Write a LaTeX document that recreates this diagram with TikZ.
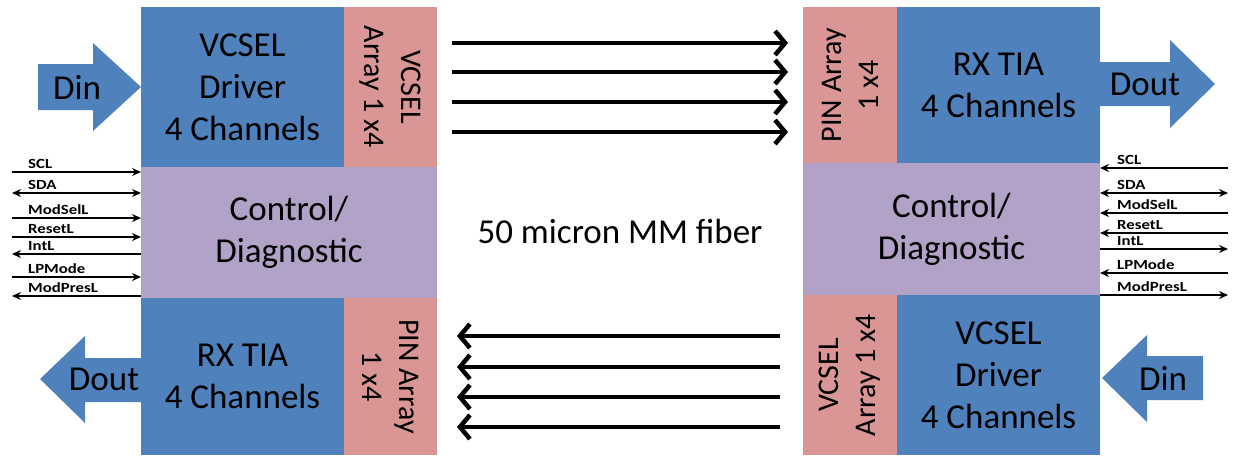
\documentclass[tikz,border=0pt]{standalone}
\usepackage{fontspec}
\setmainfont{Carlito}
\newfontfamily\sigfont{Carlito}[FakeStretch=1.2]
\usetikzlibrary{arrows.meta,positioning}
\definecolor{block}{HTML}{4F81BD}
\definecolor{array}{HTML}{D99694}
\definecolor{ctrl}{HTML}{B3A2C7}

\tikzset{
  blk/.style={inner sep=0pt,outer sep=0pt,align=center,
    font=\fontsize{35}{42}\selectfont},
  rottext/.style={inner sep=0pt,align=center,
    font=\fontsize{30}{37}\selectfont},
  fiber/.style={line width=4pt,-{Straight Barb[length=10pt,width=24pt,line width=4.5pt]}},
  sig/.style={line width=1.3pt,>={Stealth[length=9pt,width=8pt]}},
  siglab/.style={inner sep=0pt,anchor=base west,
    font=\sigfont\bfseries\fontsize{14}{14}\selectfont},
  bigtext/.style={inner sep=0pt,font=\fontsize{35}{42}\selectfont}
}

\begin{document}
\begin{tikzpicture}[x=1pt,y=-1pt]
  \useasboundingbox (0,0) rectangle (1233,455);

  % Left module
  \node[blk,fill=block,minimum width=203,minimum height=160,anchor=north west]
    (drvL) at (141,7) {VCSEL\\Driver\\4 Channels};
  \node[blk,fill=array,minimum width=93,minimum height=160,right=0pt of drvL] (vcsL) {};
  \node[rottext,rotate=-90] (vcsLt) at (vcsL) {VCSEL\\Array 1 x4};
  \node[blk,fill=ctrl,minimum width=296,minimum height=131,anchor=north west]
    (ctrlL) at (drvL.south west) {Control/\\Diagnostic};
  \node[blk,fill=block,minimum width=203,minimum height=157,anchor=north west]
    (rxL) at (ctrlL.south west) {RX TIA\\4 Channels};
  \node[blk,fill=array,minimum width=93,minimum height=157,right=0pt of rxL] (pinL) {};
  \node[rottext,rotate=-90] (pinLt) at (pinL) {PIN Array\\1 x4};

  % Right module
  \node[blk,fill=array,minimum width=94,minimum height=156,anchor=north west]
    (pinR) at (803,7) {};
  \node[rottext,rotate=90] (pinRt) at (pinR) {PIN Array\\1 x4};
  \node[blk,fill=block,minimum width=203,minimum height=156,right=0pt of pinR]
    (rxR) {RX TIA\\4 Channels};
  \node[blk,fill=ctrl,minimum width=297,minimum height=132,anchor=north west]
    (ctrlR) at (pinR.south west) {Control/\\Diagnostic};
  \node[blk,fill=array,minimum width=94,minimum height=160,anchor=north west]
    (vcsR) at (ctrlR.south west) {};
  \node[rottext,rotate=90] (vcsRt) at (vcsR) {VCSEL\\Array 1 x4};
  \node[blk,fill=block,minimum width=203,minimum height=160,right=0pt of vcsR]
    (drvR) {VCSEL\\Driver\\4 Channels};

  % Data in / out arrows
  \fill[block] (38,64) -- (93,64) -- (93,43) -- (141,87) -- (93,131) -- (93,110) -- (38,110) -- cycle;
  \node[bigtext] (dinL) at (77,87) {Din};
  \fill[block] (1100,62) -- (1170,62) -- (1170,40) -- (1215,84) -- (1170,128) -- (1170,106) -- (1100,106) -- cycle;
  \node[bigtext] (doutR) at (1145,84) {Dout};
  \fill[block] (141,358) -- (85,358) -- (85,336) -- (40,379) -- (85,423) -- (85,402) -- (141,402) -- cycle;
  \node[bigtext] (doutL) at (104,379) {Dout};
  \fill[block] (1203,356) -- (1147,356) -- (1147,335) -- (1102,378) -- (1147,422) -- (1147,400) -- (1203,400) -- cycle;
  \node[bigtext] (dinR) at (1163,378) {Din};

  % Fiber links
  \foreach \y [count=\i] in {43,72,102,132}{
    \coordinate (txa\i) at (452,\y);
    \coordinate (txb\i) at (788,\y);
    \draw[fiber] (txa\i) -- (txb\i);
  }
  \foreach \y [count=\i] in {336,367,397,427}{
    \coordinate (rxa\i) at (780,\y);
    \coordinate (rxb\i) at (457,\y);
    \draw[fiber] (rxa\i) -- (rxb\i);
  }
  \node[bigtext] (fibertext) at (620,231) {50 micron MM fiber};

  % Management signals
  \foreach \y/\lab/\tip [count=\i] in {172/SCL/->,193/SDA/<->,218/ModSelL/->,
      237/ResetL/->,254/IntL/<-,277/LPMode/->,296/ModPresL/<-}{
    \coordinate (sl\i) at (12,\y);
    \draw[sig,\tip] (sl\i) -- (sl\i -| ctrlL.west);
    \node[siglab] (sll\i) at (28,\y-4) {\lab};
  }
  \foreach \y/\lab/\tip [count=\i] in {168/SCL/<-,193/SDA/<->,213/ModSelL/<-,
      233/ResetL/<-,249/IntL/->,273/LPMode/<-,295/ModPresL/->}{
    \coordinate (sr\i) at (1228,\y);
    \draw[sig,\tip] (sr\i -| ctrlR.east) -- (sr\i);
    \node[siglab] (srl\i) at (1117,\y-4) {\lab};
  }
\end{tikzpicture}
\end{document}
